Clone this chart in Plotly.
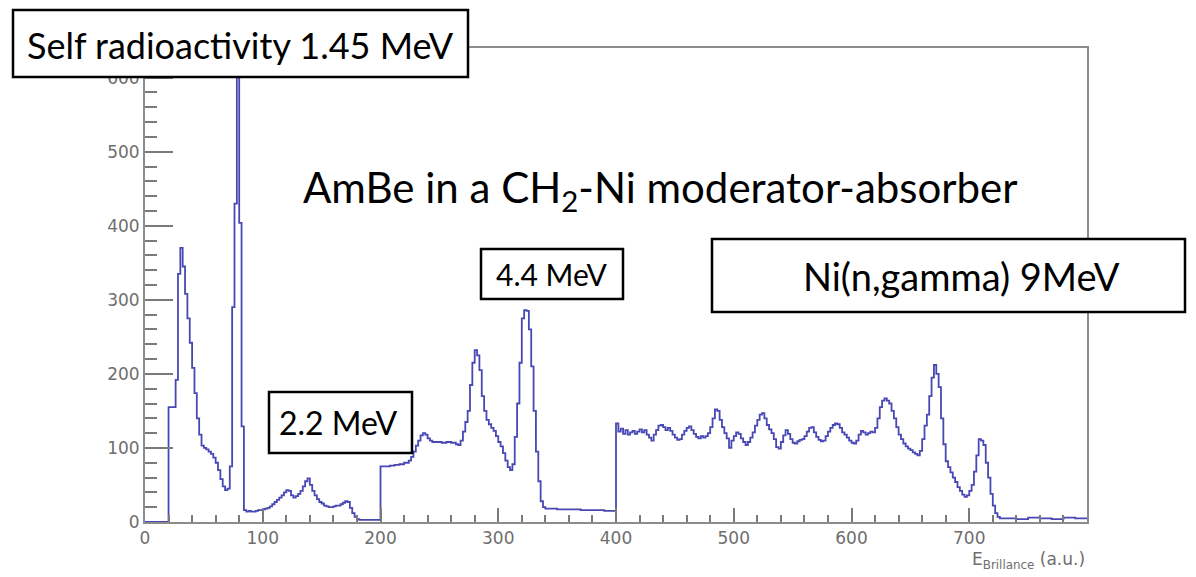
import plotly.graph_objects as go

# ---- data: gamma spectrum (bin left edge, counts) ----
energy_low = [0, 20, 22, 24, 26, 28, 30, 32, 34, 36, 38, 40, 42, 44, 46, 48, 50, 52, 54, 56, 58,
              60, 62, 64, 66, 68, 70, 72, 74, 76, 78, 80, 82, 84, 86, 88, 90, 92, 94, 96, 98,
              100, 102, 104, 106, 108, 110, 112, 114, 116, 118, 120, 122, 124, 126, 128, 130,
              132, 134, 136, 138, 140, 142, 144, 146, 148, 150, 152, 154, 156, 158, 160, 162,
              164, 166, 168, 170, 172, 174, 176, 178, 180, 182, 190, 198]
counts_low = [0, 155, 155, 155, 192, 335, 370, 345, 308, 275, 242, 208, 174, 140, 118, 103, 100, 98, 95, 92, 87,
              80, 70, 58, 48, 43, 45, 75, 290, 430, 700, 404, 129, 16, 14, 15, 14, 14, 15, 16, 16,
              17, 18, 19, 21, 24, 27, 30, 33, 36, 40, 43, 42, 36, 33, 35, 38,
              42, 48, 55, 59, 50, 42, 36, 31, 27, 25, 22, 21, 20, 20, 21, 22,
              22, 24, 26, 28, 27, 19, 12, 7, 4, 3, 3, 3]

energy_mid = [200, 204, 208, 212, 216, 220, 224, 226, 228, 230, 232, 234, 236, 238, 240, 242, 244, 248,
              252, 256, 260, 264, 266, 268, 270, 272, 274, 276, 278, 280, 282, 284, 286, 288, 290,
              292, 294, 296, 298, 300, 302, 304, 306, 308, 310, 312, 314, 316, 318, 320, 322, 324,
              326, 328, 330, 332, 334, 336, 338, 340, 350, 360, 370, 380, 390, 398]
counts_mid = [75, 75, 76, 77, 78, 80, 83, 88, 95, 103, 110, 117, 120, 118, 113, 110, 108, 108,
              107, 108, 107, 105, 104, 110, 122, 135, 150, 185, 215, 232, 225, 205, 170, 150, 138,
              132, 127, 123, 116, 108, 102, 93, 83, 74, 70, 78, 115, 160, 215, 275, 286, 285,
              260, 210, 150, 95, 55, 28, 20, 18, 17, 17, 16, 16, 15, 15]

energy_high = [400, 402, 404, 406, 408, 410, 412, 414, 416, 418, 420, 422, 424, 426, 428, 430, 432, 434,
               436, 438, 440, 442, 444, 446, 448, 450, 452, 454, 456, 458, 460, 462, 464, 466, 468,
               470, 472, 474, 476, 478, 480, 482, 484, 486, 488, 490, 492, 494, 496, 498, 500, 502,
               504, 506, 508, 510, 512, 514, 516, 518, 520, 522, 524, 526, 528, 530, 532, 534, 536,
               538, 540, 542, 544, 546, 548, 550, 552, 554, 556, 558, 560, 562, 564, 566, 568, 570,
               572, 574, 576, 578, 580, 582, 584, 586, 588, 590, 592, 594, 596, 598, 600, 602, 604,
               606, 608, 610, 612, 614, 616, 618, 620, 622, 624, 626, 628, 630, 632, 634, 636, 638,
               640, 642, 644, 646, 648, 650, 652, 654, 656, 658, 660, 662, 664, 666, 668, 670, 672,
               674, 676, 678, 680, 682, 684, 686, 688, 690, 692, 694, 696, 698, 700, 702, 704, 706,
               708, 710, 712, 714, 716, 718, 720, 722, 724, 726, 730, 740, 750, 760, 770, 780, 790, 800]
counts_high = [133, 122, 126, 119, 124, 118, 121, 123, 119, 122, 125, 121, 124, 118, 114, 110, 118, 124,
               130, 131, 128, 124, 127, 123, 118, 114, 111, 112, 118, 123, 127, 129, 124, 119, 115,
               113, 116, 114, 116, 120, 128, 140, 152, 150, 138, 128, 120, 113, 100, 110, 116, 121,
               119, 113, 108, 104, 108, 114, 121, 130, 138, 145, 147, 140, 131, 125, 120, 112, 101,
               99, 108, 117, 124, 119, 112, 107, 106, 109, 111, 112, 116, 122, 127, 128, 121, 115,
               111, 109, 110, 116, 122, 127, 131, 133, 132, 127, 121, 118, 114, 110, 107, 106, 110,
               118, 123, 121, 118, 120, 122, 121, 127, 140, 155, 164, 167, 164, 160, 150, 140, 128,
               118, 112, 106, 102, 99, 97, 94, 92, 90, 96, 112, 130, 145, 170, 195, 212, 200,
               182, 140, 105, 82, 74, 67, 60, 54, 47, 42, 37, 34, 36, 42, 50, 68, 90,
               112, 110, 104, 80, 60, 38, 22, 12, 7, 5, 5, 4, 6, 5, 4, 6, 5, 5]

x_tick_vals = [0, 100, 200, 300, 400, 500, 600, 700]
y_tick_vals = [0, 100, 200, 300, 400, 500, 600]

energy = energy_low + energy_mid + energy_high
counts = counts_low + counts_mid + counts_high

# ---- layout geometry (pixels) ----
FIG_W, FIG_H = 1196, 577
L, R, T, B = 145, 1087, 48, 522
PW, PH = R - L, B - T


def fx(p):
    return (p - L) / PW


def fy(p):
    return (B - p) / PH


fig = go.Figure()
fig.add_trace(go.Scatter(x=energy, y=counts, mode="lines", line_shape="hv",
                         line=dict(color="#4848b4", width=1.8), showlegend=False,
                         hoverinfo="skip"))

axis_common = dict(showgrid=False, zeroline=False, showline=True, mirror=True,
                   linecolor="#8c8c8c", linewidth=2, ticks="inside", tickcolor="#7a7a7a",
                   tickwidth=1.5,
                   tickfont=dict(family="DejaVu Sans", size=17, color="#6e6e6e"))

fig.update_xaxes(range=[0, 800], tickvals=x_tick_vals, ticktext=[str(v) for v in x_tick_vals],
                 ticklen=14,
                 minor=dict(tickvals=list(range(0, 801, 20)), ticklen=7, ticks="inside",
                            tickcolor="#7a7a7a", tickwidth=1.5),
                 **axis_common)
fig.update_yaxes(range=[0, 640], tickvals=y_tick_vals, ticktext=[str(v) for v in y_tick_vals],
                 ticklen=28,
                 minor=dict(tickvals=list(range(0, 641, 20)), ticklen=12, ticks="inside",
                            tickcolor="#7a7a7a", tickwidth=1.5),
                 **axis_common)

# boxes
boxes = [
    (13, 10, 468, 77),      # Self radioactivity
    (269, 392, 412, 453),   # 2.2 MeV
    (481, 249, 623, 299),   # 4.4 MeV
    (712, 239, 1185, 312),  # Ni(n,gamma)
]
for x0, y0, x1, y1 in boxes:
    fig.add_shape(type="rect", xref="paper", yref="paper",
                  x0=fx(x0), x1=fx(x1), y0=fy(y1), y1=fy(y0),
                  line=dict(color="black", width=2.5), fillcolor="white", layer="above")

TF = "Lato"
texts = [
    ("Self radioactivity 1.45 MeV", 240, (10 + 77) / 2 + 1, 36),
    ("2.2 MeV", 338, (392 + 453) / 2, 32),
    ("4.4 MeV", 552, (249 + 299) / 2, 30),
    ("Ni(n,gamma) 9MeV", 961, (239 + 312) / 2, 38),
    ("AmBe in a CH<sub>2</sub>-Ni moderator-absorber", 660, 190, 42),
]
for t, cx, cy, sz in texts:
    fig.add_annotation(text=t, xref="paper", yref="paper", x=fx(cx), y=fy(cy),
                       xanchor="center", yanchor="middle", showarrow=False,
                       font=dict(family=TF, size=sz, color="black"))

fig.add_annotation(text="E<sub>Brillance</sub> (a.u.)", xref="paper", yref="paper",
                   x=fx(1087), y=fy(560), xanchor="right", yanchor="middle", showarrow=False,
                   font=dict(family="DejaVu Sans", size=17, color="#6e6e6e"))

fig.update_layout(width=FIG_W, height=FIG_H, autosize=False,
                  margin=dict(l=L, r=FIG_W - R, t=T, b=FIG_H - B, pad=0),
                  paper_bgcolor="white", plot_bgcolor="white")

fig.write_html("out.html")
